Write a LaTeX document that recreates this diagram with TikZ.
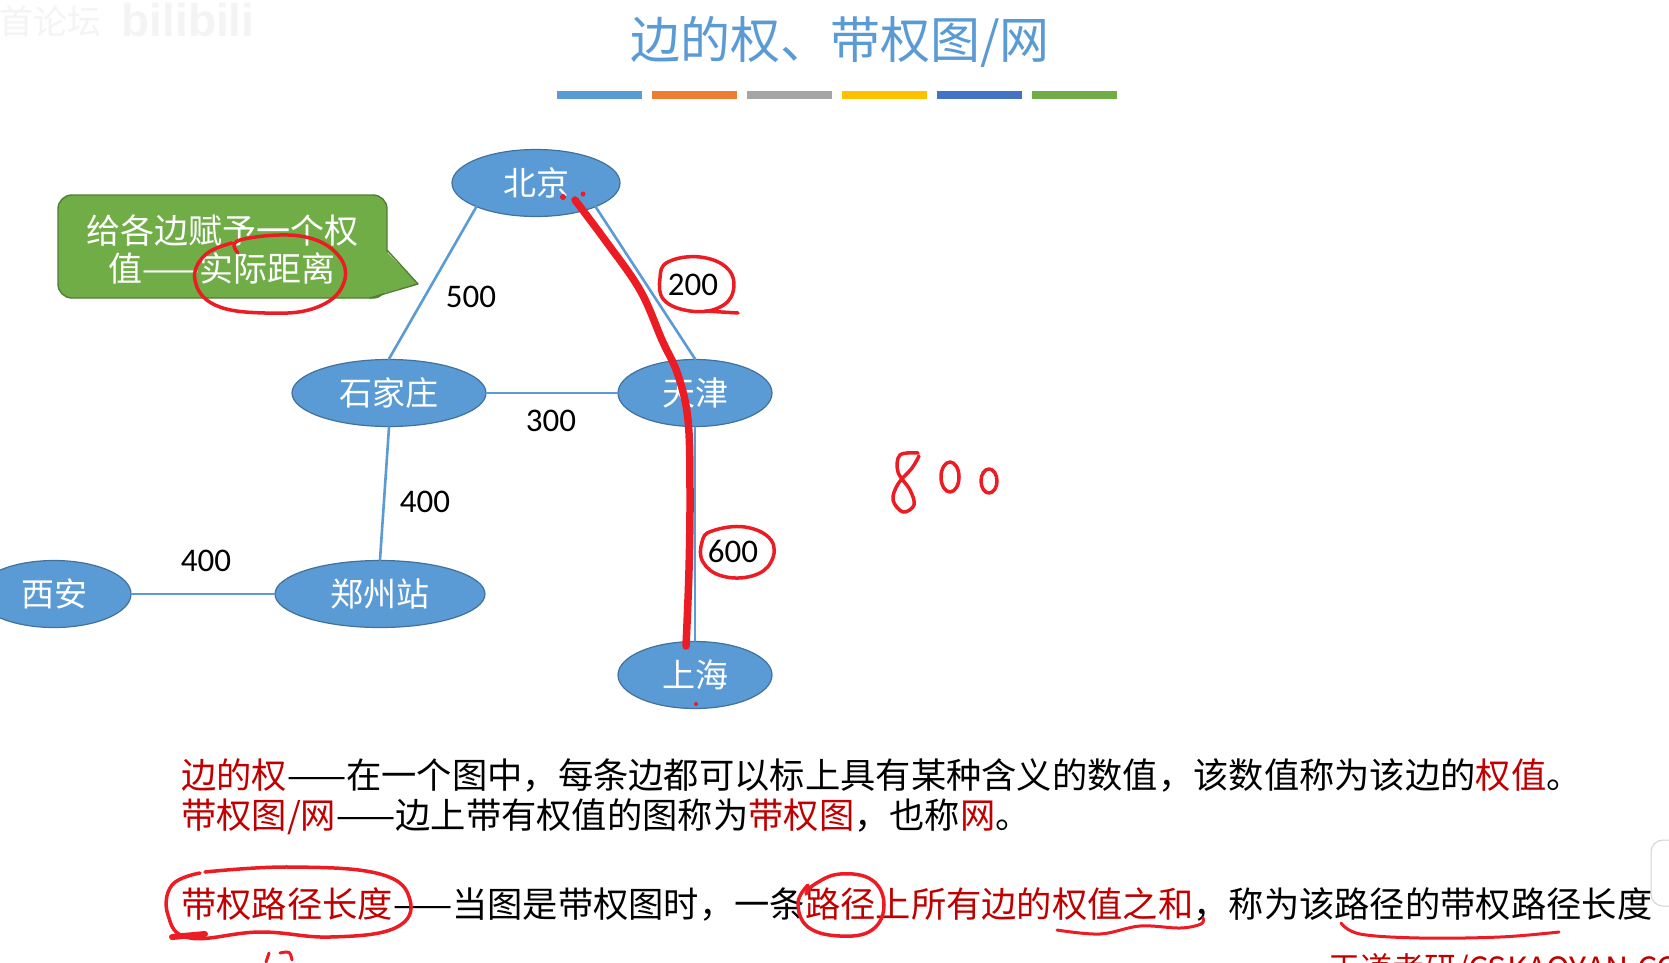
\documentclass[tikz,border=0pt]{standalone}
\usepackage{fontspec}
\setmainfont{Noto Sans CJK SC}
\newfontfamily\numfont{Carlito}
\newfontfamily\logofont{Liberation Sans}
\usepackage{xcolor}
\usepackage{tikz}
\usetikzlibrary{shapes.geometric}
\definecolor{cityblue}{HTML}{5B9BD5}
\definecolor{cityrim}{HTML}{41719C}
\definecolor{barorange}{HTML}{ED7D31}
\definecolor{bargray}{HTML}{A5A5A5}
\definecolor{baryellow}{HTML}{FFC000}
\definecolor{bardeep}{HTML}{4472C4}
\definecolor{bargreen}{HTML}{70AD47}
\definecolor{calloutrim}{HTML}{507E32}
\definecolor{keyred}{HTML}{C00000}
\definecolor{inkred}{HTML}{EC1C24}
\newcommand{\kw}[1]{\textcolor{keyred}{#1}}
\tikzset{
    every picture/.style={line cap=round,line join=round},
    citynode/.style={ellipse,draw=cityrim,fill=cityblue,line width=1.2pt,
      inner sep=0pt,minimum height=67pt,text=white,
      font=\fontsize{33}{38}\selectfont},
    roadedge/.style={draw=cityblue,line width=2.6pt},
    weightlabel/.style={inner sep=0pt,font=\numfont\fontsize{33}{38}\selectfont},
    bodyline/.style={anchor=west,inner sep=0pt,font=\fontsize{35.3}{40}\selectfont},
    calloutbox/.style={fill=bargreen,draw=calloutrim,line width=1.4pt,
      rounded corners=14pt},
    inkline/.style={draw=inkred,line width=3.5pt},
    inkdot/.style={fill=inkred}
}

\begin{document}
\begin{tikzpicture}[x=1pt,y=-1pt]
  \useasboundingbox (0,0) rectangle (1669,962);
  \clip (0,0) rectangle (1669,962);
  \fill[white] (0,0) rectangle (1669,962);

  % faint video watermark
  \node[text=gray!9,font=\fontsize{34}{38}\selectfont] (wmark) at (50,22) {首论坛};
  \node[text=gray!9,font=\logofont\bfseries\fontsize{46}{50}\selectfont] (wlogo) at (188,20) {bilibili};

  % title and colour bars
  \node[text=cityblue,font=\fontsize{50}{56}\selectfont] (title) at (840,42) {边的权、带权图/网};
  \foreach \c [count=\i from 0] in {cityblue,barorange,bargray,baryellow,bardeep,bargreen}
    \fill[\c] (557+95*\i,91) rectangle +(85,8);

  % cities
  \node[citynode,minimum width=168pt] (bj) at (536,183) {北京};
  \node[citynode,minimum width=194pt] (sjz) at (389,393) {石家庄};
  \node[citynode,minimum width=154pt] (tj) at (695,393) {天津};
  \node[citynode,minimum width=154pt] (xa) at (54,594) {西安};
  \node[citynode,minimum width=210pt] (zz) at (380,594) {郑州站};
  \node[citynode,minimum width=154pt] (sh) at (695,675) {上海};

  % roads
  \draw[roadedge] (bj.south west) -- (sjz.north);
  \draw[roadedge] (bj.south east) -- (tj.north);
  \draw[roadedge] (sjz.east) -- (tj.west);
  \draw[roadedge] (sjz.south) -- (zz.north);
  \draw[roadedge] (xa.east) -- (zz.west);
  \draw[roadedge] (tj.south) -- (sh.north);

  % weights
  \node[weightlabel] (w500) at (471,297) {500};
  \node[weightlabel] (w200) at (693,285) {200};
  \node[weightlabel] (w300) at (551,421) {300};
  \node[weightlabel] (w400a) at (425,502) {400};
  \node[weightlabel] (w400b) at (206,561) {400};
  \node[weightlabel] (w600) at (733,551) {600};

  % callout
  \path[calloutbox] (58,195) rectangle (387,298);
  \fill[bargreen] (385,250) -- (418,284) -- (368,297.3) -- cycle;
  \draw[calloutrim,line width=1.4pt] (387,250) -- (418,284) -- (370,298);
  \node[text=white,align=center,font=\fontsize{34}{38}\selectfont] (tip) at (222,249)
    {给各边赋予一个权\\值——实际距离};

  % definitions
  \node[bodyline] (def1) at (181,775) {\kw{边的权}——在一个图中，每条边都可以标上具有某种含义的数值，该数值称为该边的\kw{权值}。};
  \node[bodyline] (def2) at (181,817) {\kw{带权图/网}——边上带有权值的图称为\kw{带权图}，也称\kw{网}。};
  \node[bodyline] (def3) at (181,904) {\kw{带权路径长度}——当图是带权图时，一条\kw{路径上所有边的权值之和}，称为该路径的带权路径长度};
  \node[anchor=base west,inner sep=0pt,text=keyred,font=\fontsize{32}{36}\selectfont] (brand) at (1328,980) {王道考研/CSKAOYAN.COM};
  \draw[gray!35,fill=white,rounded corners=12pt,line width=1pt] (1651,840) rectangle (1730,906);

  % red ink
  \draw[inkline,line width=7.5pt] plot[smooth,tension=0.6] coordinates
    {(575,200) (605,240) (640,290) (662,340) (678,375) (688,420) (690,490) (689,570) (686,646)};
  \fill[inkdot] (563,197) circle (3) (583,194) circle (2.5) (696,704) circle (2);
  \draw[inkline] plot[smooth cycle,tension=0.7] coordinates
    {(668,262) (700,257) (728,269) (733,292) (718,308) (690,311) (664,300) (660,278)};
  \draw[inkline] (705,311) -- (738,313);
  \draw[inkline] plot[smooth cycle,tension=0.7] coordinates
    {(712,531) (745,527) (771,540) (771,562) (752,576) (722,576) (703,562) (702,542)};
  \draw[inkline] plot[smooth,tension=0.7] coordinates
    {(238,253) (240,240) (300,236) (338,255) (343,285) (315,308) (265,313) (215,305) (195,280) (205,255) (232,243)};
  \draw[inkline] plot[smooth,tension=0.6] coordinates
    {(918,453) (900,455) (898,472) (910,490) (914,505) (903,512) (893,500) (898,484) (912,468) (919,456)};
  \draw[inkline] (950,477) ellipse (9 and 15);
  \draw[inkline] (989,481) ellipse (8 and 12);
  \draw[inkline] plot[smooth,tension=0.7] coordinates
    {(205,872) (290,867) (380,874) (410,900) (395,928) (330,937) (260,932) (190,938) (168,915) (172,885) (200,873)};
  \draw[inkline,line width=6pt] (172,937) -- (205,934);
  \draw[inkline] plot[smooth,tension=0.7] coordinates
    {(806,894) (815,884) (840,874) (872,880) (884,905) (872,930) (840,936) (808,927) (798,903) (808,885)};
  \draw[inkline,line width=3pt] plot[smooth,tension=0.6] coordinates
    {(1057,930) (1100,934) (1140,926) (1180,928) (1201,924) (1203,918)};
  \draw[inkline,line width=3pt] plot[smooth,tension=0.6] coordinates
    {(1341,923) (1360,934) (1420,938) (1500,937) (1559,932)};
  \draw[inkline,line width=3pt] (266,962) -- (269,953) (280,953) .. controls (290,951) .. (292,960);
\end{tikzpicture}
\end{document}
